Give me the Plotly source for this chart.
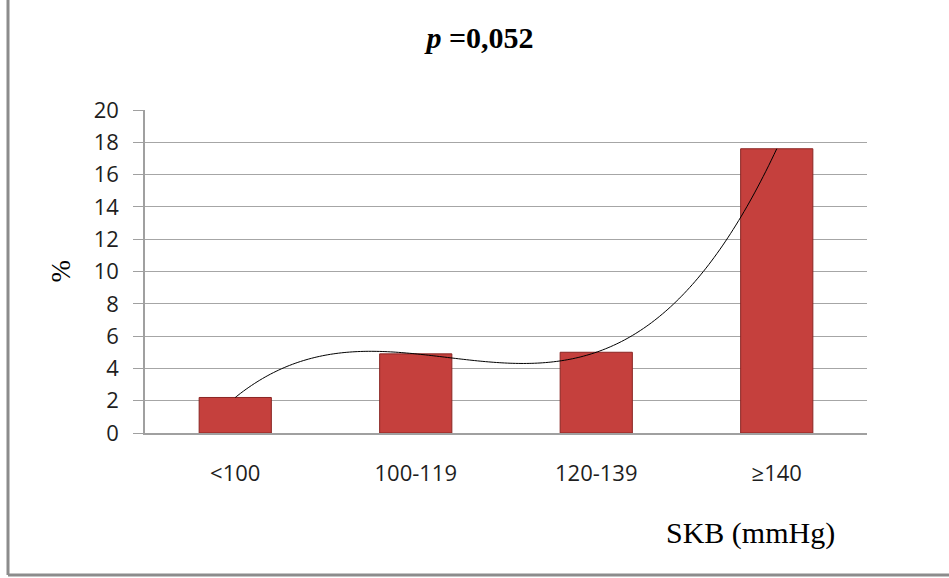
import numpy as np
import plotly.graph_objects as go

# Systolic blood pressure groups and share of patients (%)
categories = ["<100", "100-119", "120-139", "≥140"]
percent = [2.2, 4.9, 5.0, 17.6]
y_ticks = [0, 2, 4, 6, 8, 10, 12, 14, 16, 18, 20]

x_pos = np.arange(1, len(categories) + 1)

# third-order polynomial trend through the group values
coef = np.polyfit(x_pos, percent, 3)
x_fine = np.linspace(x_pos[0], x_pos[-1], 200)
y_fine = np.polyval(coef, x_fine)

fig = go.Figure()
fig.add_trace(go.Bar(
    x=x_pos, y=percent, width=0.4,
    marker=dict(color="#C5403D", line=dict(color="#8A2523", width=1)),
    hoverinfo="y",
))
fig.add_trace(go.Scatter(
    x=x_fine, y=y_fine, mode="lines",
    line=dict(color="black", width=1, shape="spline"),
    hoverinfo="skip",
))

fig.update_layout(
    width=949, height=578,
    margin=dict(l=145, r=82, t=110, b=145),
    paper_bgcolor="white", plot_bgcolor="white",
    showlegend=False,
    title=dict(
        text="<i><b>p</b></i> <b>=0,052</b>",
        font=dict(family="Liberation Serif", size=30, color="black"),
        x=480 / 949, xanchor="center",
        y=1 - 37 / 578, yanchor="middle",
    ),
    xaxis=dict(
        range=[0.5, 4.5],
        tickmode="array", tickvals=list(x_pos), ticktext=categories,
        showgrid=False, zeroline=False,
        showline=True, linecolor="#A0A0A0", linewidth=1.5,
        ticks="", ticklabelstandoff=20,
        tickfont=dict(family="Open Sans", size=22, color="#1E1E1E"),
    ),
    yaxis=dict(
        range=[0, 20],
        tickmode="array", tickvals=y_ticks,
        showgrid=True, gridcolor="#A6A6A6", gridwidth=1.2,
        zeroline=False,
        showline=True, linecolor="#A0A0A0", linewidth=1.5,
        ticks="outside", ticklen=10, tickcolor="#A0A0A0", tickwidth=1.2,
        ticklabelstandoff=10,
        tickfont=dict(family="Open Sans", size=22, color="#1E1E1E"),
    ),
    annotations=[
        dict(text="%", textangle=-90, xref="paper", yref="paper",
             x=(60 - 145) / 722, y=0.5, showarrow=False,
             xanchor="center", yanchor="middle",
             font=dict(family="Liberation Serif", size=27, color="black")),
        dict(text="SKB (mmHg)", xref="paper", yref="paper",
             x=(750 - 145) / 722, y=(433 - 533) / 323, showarrow=False,
             xanchor="center", yanchor="middle",
             font=dict(family="Liberation Serif", size=30, color="black")),
    ],
    shapes=[
        dict(type="line", xref="paper", yref="paper",
             x0=(8 - 145) / 722, x1=(8 - 145) / 722,
             y0=(433 - 575) / 323, y1=433 / 323,
             line=dict(color="#8C8C8C", width=3)),
        dict(type="line", xref="paper", yref="paper",
             x0=(8 - 145) / 722, x1=(949 - 145) / 722,
             y0=(433 - 575) / 323, y1=(433 - 575) / 323,
             line=dict(color="#8C8C8C", width=3)),
    ],
)

fig.write_html("out.html")
